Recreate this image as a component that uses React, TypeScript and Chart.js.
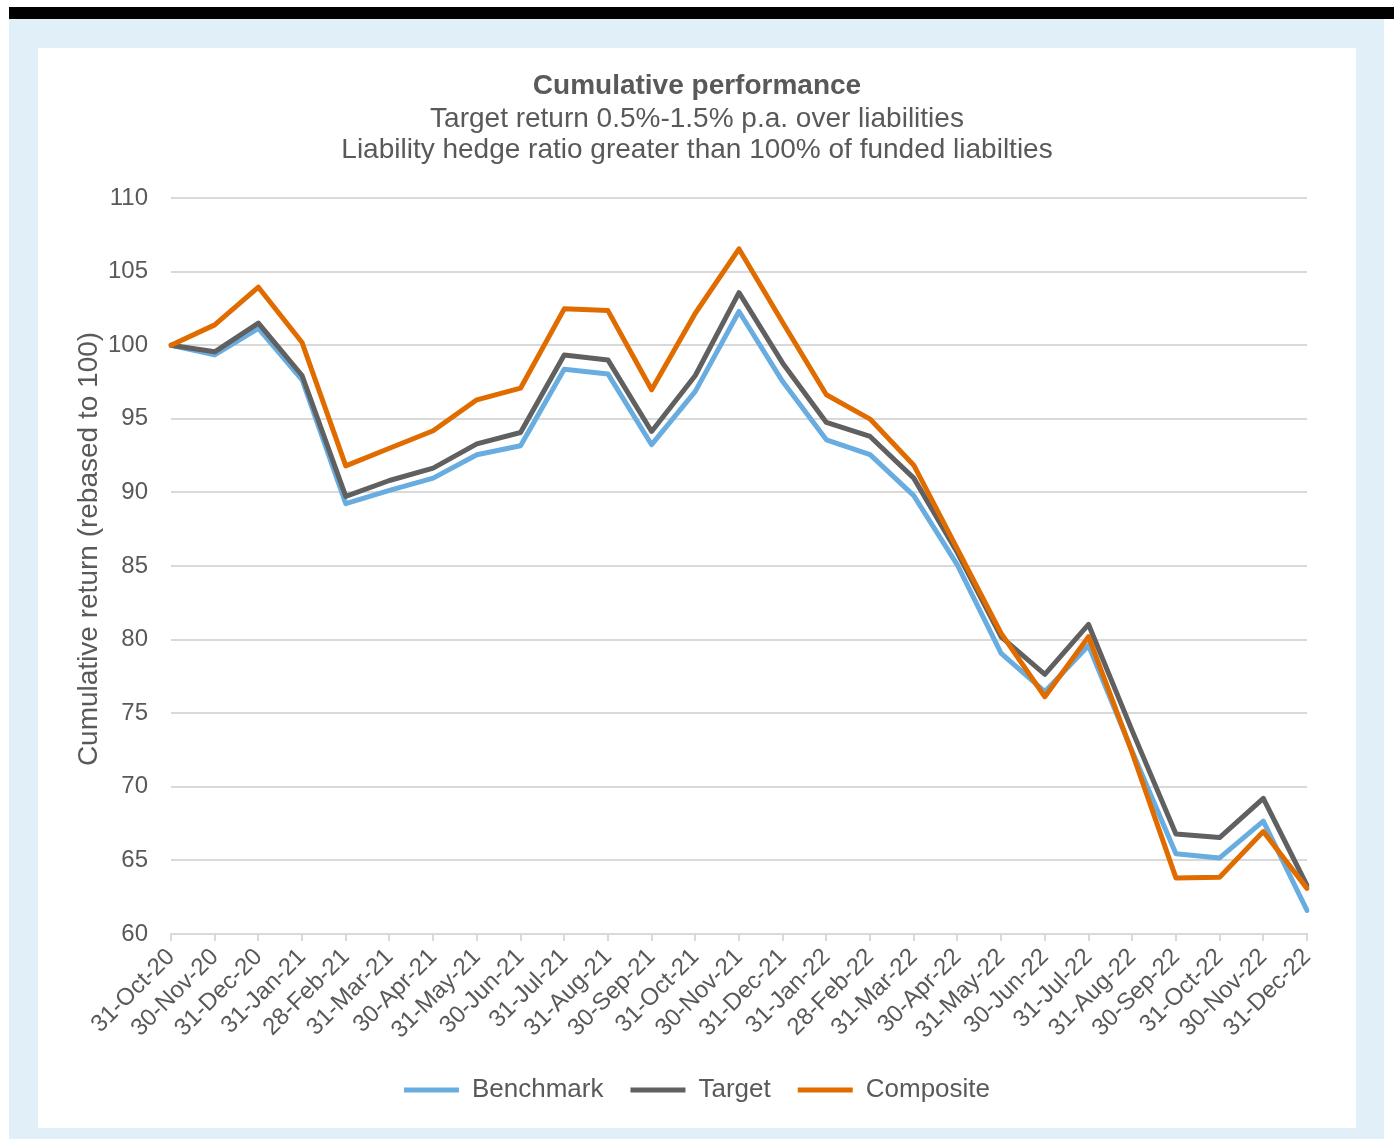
import React, { useEffect, useRef } from "react";
import { Chart, registerables } from "chart.js";

Chart.register(...registerables);

const categories = [
  "31-Oct-20", "30-Nov-20", "31-Dec-20", "31-Jan-21", "28-Feb-21", "31-Mar-21",
  "30-Apr-21", "31-May-21", "30-Jun-21", "31-Jul-21", "31-Aug-21", "30-Sep-21",
  "31-Oct-21", "30-Nov-21", "31-Dec-21", "31-Jan-22", "28-Feb-22", "31-Mar-22",
  "30-Apr-22", "31-May-22", "30-Jun-22", "31-Jul-22", "31-Aug-22", "30-Sep-22",
  "31-Oct-22", "30-Nov-22", "31-Dec-22",
];

const benchmark = [
  100, 99.34, 101.15, 97.65, 89.23, 90.14, 90.97, 92.56, 93.17, 98.37, 98.05, 93.24,
  96.86, 102.29, 97.53, 93.57, 92.57, 89.78, 85.06, 79.06, 76.46, 79.6, 72.4, 65.45,
  65.17, 67.67, 61.6,
];

const target = [
  100, 99.55, 101.5, 97.94, 89.73, 90.81, 91.65, 93.3, 94.07, 99.34, 99.0, 94.14,
  97.94, 103.57, 98.78, 94.75, 93.8, 90.97, 85.9, 80.18, 77.64, 81.03, 73.8, 66.79,
  66.55, 69.22, 63.3,
];

const composite = [
  100, 101.38, 103.94, 100.18, 91.8, 93.0, 94.19, 96.29, 97.08, 102.47, 102.35, 96.97,
  102.17, 106.54, 101.54, 96.63, 94.98, 91.85, 86.14, 80.42, 76.12, 80.2, 72.3, 63.81,
  63.86, 66.96, 63.1,
];

const seriesNames = ["Benchmark", "Target", "Composite"];
const yMin = 60;
const yMax = 110;
const yStep = 5;

const titleText = "Cumulative performance";
const subtitleLines = [
  "Target return 0.5%-1.5% p.a. over liabilities",
  "Liability hedge ratio greater than 100% of funded liabilties",
];
const yAxisTitle = "Cumulative return (rebased to 100)";

const FONT = '"Liberation Sans", Arial, Helvetica, sans-serif';
const TEXT = "#595959";
const GRID = "#D9D9D9";
const COLORS = ["#69ADE0", "#606060", "#E06C00"];

const yTitlePlugin = {
  id: "yTitlePlugin",
  afterDraw(chart: any) {
    const { ctx, chartArea } = chart;
    ctx.save();
    ctx.translate(chartArea.left - 82, (chartArea.top + chartArea.bottom) / 2 - 17);
    ctx.rotate(-Math.PI / 2);
    ctx.font = `28px ${FONT}`;
    ctx.fillStyle = TEXT;
    ctx.textAlign = "center";
    ctx.textBaseline = "middle";
    ctx.fillText(yAxisTitle, 0, 0);
    ctx.restore();
  },
};

export default function App() {
  const canvasRef = useRef<HTMLCanvasElement | null>(null);

  useEffect(() => {
    if (!canvasRef.current) return;
    const seriesData = [benchmark, target, composite];
    const chart = new Chart(canvasRef.current, {
      type: "line",
      data: {
        labels: categories,
        datasets: seriesData.map((d, i) => ({
          label: seriesNames[i],
          data: d,
          borderColor: COLORS[i],
          backgroundColor: COLORS[i],
          borderWidth: 5,
          pointRadius: 0,
          pointHoverRadius: 0,
          tension: 0,
          borderCapStyle: "round" as const,
          borderJoinStyle: "round" as const,
          order: 3 - i,
        })),
      },
      options: {
        responsive: false,
        animation: false,
        devicePixelRatio: 1,
        layout: { padding: { left: 49, right: 49, top: 0, bottom: 15 } },
        plugins: {
          title: {
            display: true,
            text: titleText,
            color: TEXT,
            font: { size: 28, weight: "bold", family: FONT, lineHeight: 1.2 },
            padding: { top: 21, bottom: 0 },
          },
          subtitle: {
            display: true,
            text: subtitleLines,
            color: TEXT,
            font: { size: 28, weight: "normal", family: FONT, lineHeight: 31 / 28 },
            padding: { top: 1, bottom: 32.4 },
          },
          legend: {
            position: "bottom",
            labels: {
              usePointStyle: true,
              pointStyle: "line",
              pointStyleWidth: 55,
              color: TEXT,
              font: { size: 26, family: FONT },
              padding: 27,
              sort: (a: any, b: any) => a.datasetIndex - b.datasetIndex,
            },
          },
          tooltip: { enabled: false },
        },
        scales: {
          x: {
            grid: {
              drawOnChartArea: false,
              drawTicks: true,
              tickLength: 7,
              color: GRID,
              lineWidth: 2,
            },
            border: { display: true, color: GRID, width: 2 },
            ticks: {
              color: TEXT,
              font: { size: 24, family: FONT },
              maxRotation: 45,
              minRotation: 45,
              autoSkip: false,
              padding: 2,
            },
            afterFit: (s: any) => {
              s.height = 116;
            },
          },
          y: {
            min: yMin,
            max: yMax,
            ticks: {
              stepSize: yStep,
              color: TEXT,
              font: { size: 24, family: FONT },
              padding: 23,
            },
            grid: { color: GRID, lineWidth: 2, drawTicks: false },
            border: { display: false },
            afterFit: (s: any) => {
              s.width = 84;
            },
          },
        },
      },
      plugins: [yTitlePlugin],
    });
    return () => chart.destroy();
  }, []);

  return (
    <div
      style={{
        position: "absolute",
        left: 0,
        top: 0,
        width: 1394,
        height: 1139,
        background: "#ffffff",
        overflow: "hidden",
      }}
    >
      <div style={{ position: "absolute", left: 9, top: 7, right: 0, height: 12, background: "#000000" }} />
      <div style={{ position: "absolute", left: 9, top: 19, width: 1375, height: 1120, background: "#E1EFF9" }} />
      <div style={{ position: "absolute", left: 38, top: 48, width: 1318, height: 1080, background: "#ffffff" }}>
        <canvas ref={canvasRef} width={1318} height={1080} style={{ display: "block", width: 1318, height: 1080 }} />
      </div>
    </div>
  );
}
